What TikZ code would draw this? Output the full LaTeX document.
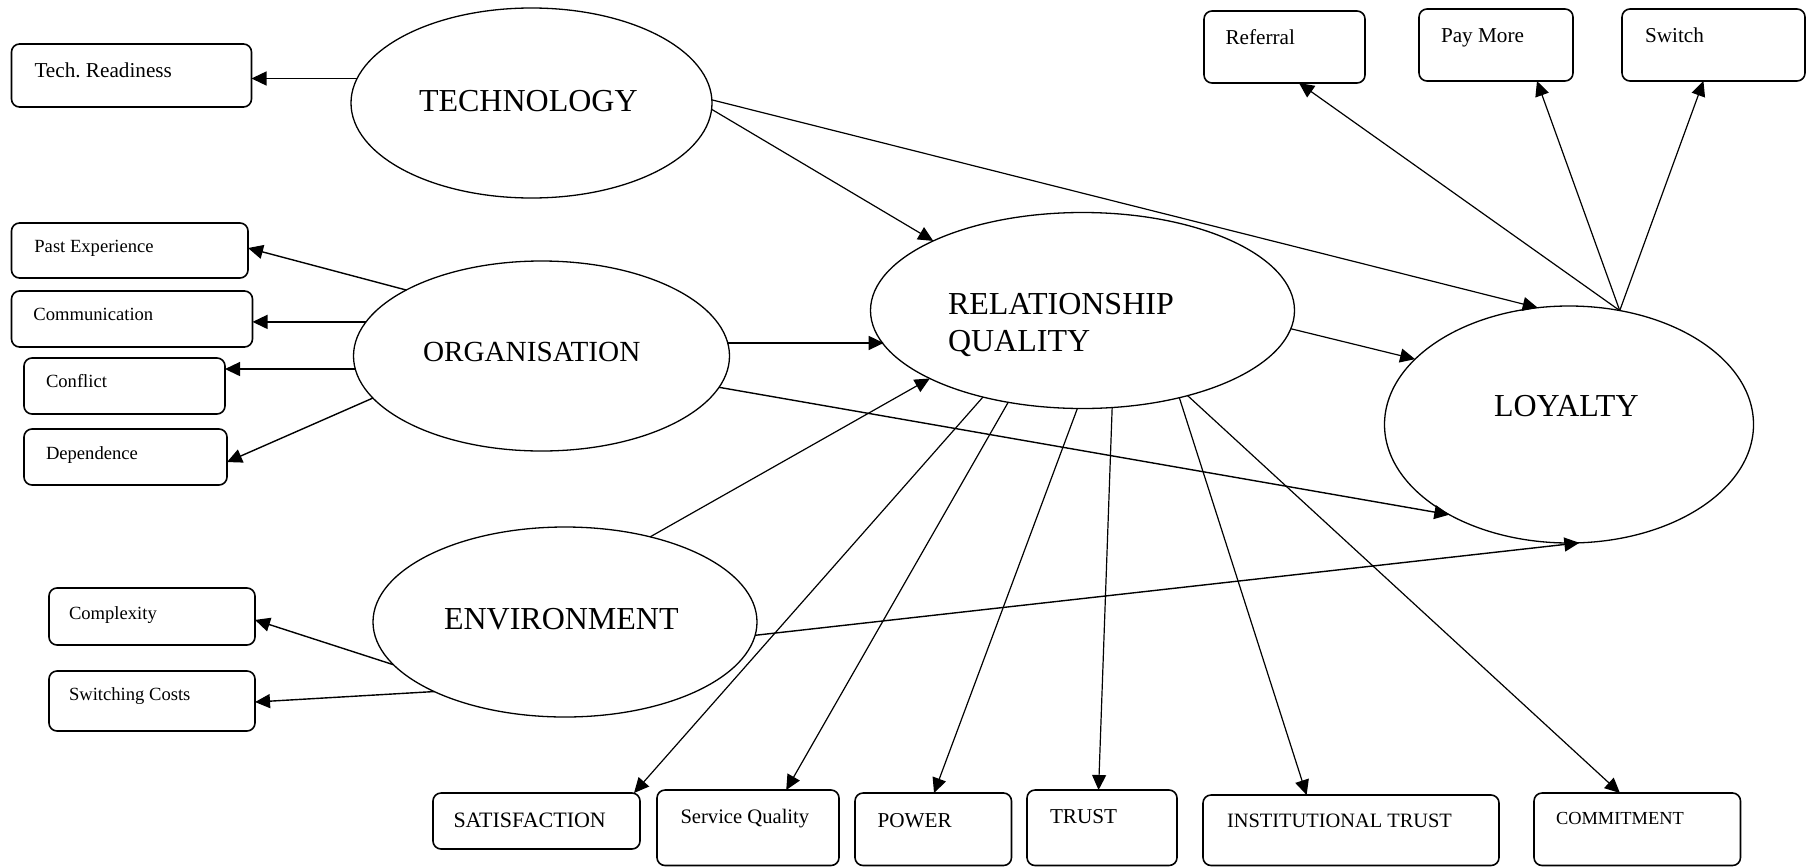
\documentclass[tikz,border=0pt]{standalone}
\usepackage{fontspec}
\setmainfont{Liberation Serif}
\usetikzlibrary{shapes.geometric,arrows.meta,calc}
\begin{document}
\begin{tikzpicture}[x=0.5pt,y=-0.5pt,
  box/.style={draw, rounded corners=4pt, line width=0.8pt, inner sep=0pt, outer sep=0pt},
  oval/.style={draw, ellipse, line width=0.65pt, inner sep=0pt, outer sep=0pt},
  lbl/.style={inner sep=0pt, outer sep=0pt, anchor=base west},
  big/.style={font=\fontsize{16}{18}\selectfont},
  orgfont/.style={font=\fontsize{14.6}{17}\selectfont},
  small/.style={font=\fontsize{9.3}{11}\selectfont},
  mid/.style={font=\fontsize{10.6}{12.5}\selectfont},
  arr/.style={-{Triangle[length=7.5pt,width=7pt]}, line width=0.7pt},
  arrthin/.style={-{Triangle[length=7.5pt,width=7pt]}, line width=0.6pt}
]
\useasboundingbox[fill=white] (0,0) rectangle (1807,867);

% ellipses
\node[oval, minimum width=180.5pt, minimum height=95pt] (tech) at (531.5,103) {};
\node[oval, minimum width=188pt, minimum height=95pt] (org) at (541.5,356) {};
\node[oval, minimum width=192pt, minimum height=95pt] (env) at (565,622) {};
\node[oval, minimum width=212pt, minimum height=98pt] (rq) at (1082.5,310.5) {};
\node[oval, minimum width=184.5pt, minimum height=118.5pt] (loy) at (1569,424.5) {};

\node[lbl, big] (techT) at (419,111) {TECHNOLOGY};
\node[lbl, orgfont] (orgT) at (423,361.5) {ORGANISATION};
\node[lbl, big] (envT) at (444,629) {ENVIRONMENT};
\node[lbl, big] (rqT1) at (948,314) {RELATIONSHIP};
\node[lbl, big] (rqT2) at (948,351) {QUALITY};
\node[lbl, big] (loyT) at (1494,416) {LOYALTY};

% boxes
\node[box, minimum width=120pt, minimum height=31.5pt] (tr) at (131.5,75.5) {};
\node[box, minimum width=118.25pt, minimum height=27.5pt] (pe) at (129.75,250.5) {};
\node[box, minimum width=120.5pt, minimum height=28pt] (com) at (132,319) {};
\node[box, minimum width=100.5pt, minimum height=28pt] (con) at (124.5,386) {};
\node[box, minimum width=101.5pt, minimum height=28pt] (dep) at (125.5,457) {};
\node[box, minimum width=103pt, minimum height=28.5pt] (cx) at (152,616.5) {};
\node[box, minimum width=103pt, minimum height=30pt] (sc) at (152,701) {};
\node[box, minimum width=103.5pt, minimum height=28pt] (sat) at (536.5,821) {};
\node[box, minimum width=91pt, minimum height=37.75pt] (sq) at (748,827.75) {};
\node[box, minimum width=78.25pt, minimum height=36.25pt] (pow) at (933.25,829.25) {};
\node[box, minimum width=75pt, minimum height=37.75pt] (tru) at (1102,827.75) {};
\node[box, minimum width=148pt, minimum height=35.25pt] (it) at (1351,830.25) {};
\node[box, minimum width=103.25pt, minimum height=36.25pt] (cm) at (1637.25,829.25) {};
\node[box, minimum width=80.5pt, minimum height=36pt] (ref) at (1284.5,47) {};
\node[box, minimum width=77pt, minimum height=36pt] (pm) at (1496,45) {};
\node[box, minimum width=91.5pt, minimum height=36pt] (sw) at (1713.5,45) {};

% box labels
\node[lbl, mid] (trT) at (34.5,77) {Tech.\ Readiness};
\node[lbl, small] (peT) at (34.4,252) {Past Experience};
\node[lbl, small] (comT) at (33.4,320) {Communication};
\node[lbl, small] (conT) at (46,387) {Conflict};
\node[lbl, small] (depT) at (46,459) {Dependence};
\node[lbl, small] (cxT) at (69,619) {Complexity};
\node[lbl, small] (scT) at (69,700) {Switching Costs};
\node[lbl, font=\fontsize{11}{13}\selectfont] (satT) at (453.5,827) {SATISFACTION};
\node[lbl, font=\fontsize{10.3}{12}\selectfont] (sqT) at (680.5,823.5) {Service Quality};
\node[lbl, mid] (powT) at (877.5,827) {POWER};
\node[lbl, mid] (truT) at (1050,823) {TRUST};
\node[lbl, font=\fontsize{10.2}{12}\selectfont] (itT) at (1227,827.5) {INSTITUTIONAL TRUST};
\node[lbl, font=\fontsize{9.2}{11}\selectfont] (cmT) at (1556,824) {COMMITMENT};
\node[lbl, mid] (refT) at (1225.5,44) {Referral};
\node[lbl, mid] (pmT) at (1441,42) {Pay More};
\node[lbl, mid] (swT) at (1645,42) {Switch};

% connectors: left side
\draw[arr] (tech.172.8) -- (tr.east |- tech.172.8);
\draw[arr] (org.154.4) -- ($(pe.north east)!0.455!(pe.south east)$);
\draw[arr] (org.169.4) -- (com.east |- org.169.4);
\draw[arr] (org.184.6) -- (con.east |- org.184.6);
\draw[arr] (org.194.5) -- ($(dep.north east)!0.59!(dep.south east)$);
\draw[arr] (env.194.3) -- ($(cx.north east)!0.56!(cx.south east)$);
\draw[arr] (env.208.4) -- ($(sc.north east)!0.517!(sc.south east)$);

% constructs
\draw[arrthin] (tech.-2.8) -- (rq.155.9);
\draw[arrthin] (tech.1.6) -- (loy.105.5);
\draw[arr] (org.4.6) -- ([xshift=2pt]org.4.6 -| rq.188.6);
\draw[arr] (org.-10.6) -- (loy.217.5);
\draw[arrthin] (env.45.8) -- (rq.204.8);
\draw[arr] (env.-4.9) -- (loy.-85);
\draw[arrthin] (rq.-5.9) -- (loy.157);

% loyalty indicators
\draw[arrthin] (loy.66) -- ($(ref.south west)!0.59!(ref.south east)$);
\draw[arrthin] (loy.66) -- ($(pm.south west)!0.766!(pm.south east)$);
\draw[arrthin] (loy.66) -- ($(sw.south west)!0.445!(sw.south east)$);

% relationship quality dimensions
\draw[arrthin] (rq.221.6) -- ($(sat.north west)!0.971!(sat.north east)$);
\draw[arrthin] (rq.231.1) -- ($(sq.north west)!0.71!(sq.north east)$);
\draw[arrthin] (rq.267) -- ($(pow.north west)!0.505!(pow.north east)$);
\draw[arrthin] (rq.287) -- ($(tru.north west)!0.477!(tru.north east)$);
\draw[arrthin] (rq.318.7) -- ($(it.north west)!0.35!(it.north east)$);
\draw[arrthin] (rq.321.25) -- ($(cm.north west)!0.416!(cm.north east)$);
\end{tikzpicture}
\end{document}
